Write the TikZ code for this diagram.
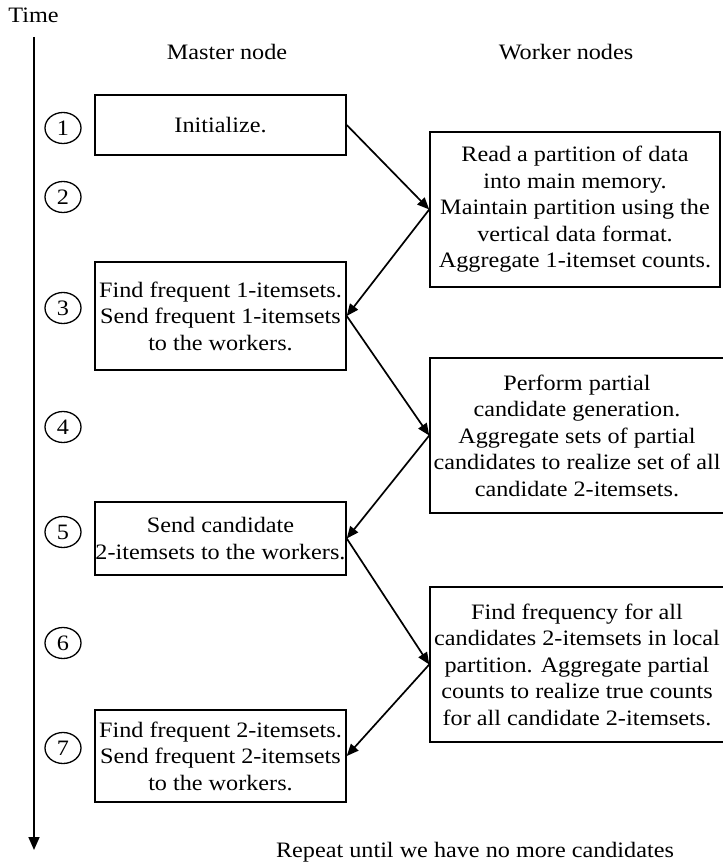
\documentclass[tikz,border=0pt]{standalone}
\usepackage{fontspec}
\setmainfont{Liberation Serif}[FakeStretch=1.1]
\usetikzlibrary{arrows.meta,shapes.geometric}

\begin{document}
\begin{tikzpicture}[x=1pt,y=-1pt,
  every node/.style={font=\fontsize{22}{26.5}\selectfont, inner sep=0pt},
  procbox/.style={draw, line width=1.5pt, align=center},
  stepnum/.style={draw, ellipse, minimum width=36pt, minimum height=31pt, line width=1.3pt},
  flow/.style={-{Triangle[length=12pt,width=10pt]}, line width=1.7pt},
  timeaxis/.style={-{Triangle[length=13pt,width=11pt]}, line width=1.7pt}
]
\useasboundingbox (0,0) rectangle (722,866);

% time axis
\node (time) at (33.5,15) {Time};
\coordinate (ttop) at (34,37);
\coordinate (tbot) at (34,850);
\draw[timeaxis] (ttop) -- (tbot);

% column headings
\node (mhead) at (227,52) {Master node};
\node (whead) at (566,52) {Worker nodes};

% step numbers
\node[stepnum] (s1) at (63,128) {1};
\node[stepnum] (s2) at (63,197) {2};
\node[stepnum] (s3) at (63,308) {3};
\node[stepnum] (s4) at (63,427) {4};
\node[stepnum] (s5) at (63,532) {5};
\node[stepnum] (s6) at (63,643) {6};
\node[stepnum] (s7) at (63,748) {7};

% master side
\node[procbox, minimum width=251pt, minimum height=60pt] (m1) at (220.5,125) {Initialize.};
\node[procbox, minimum width=251pt, minimum height=108pt] (m3) at (220.5,316)
  {Find frequent 1-itemsets.\\Send frequent 1-itemsets\\to the workers.};
\node[procbox, minimum width=251pt, minimum height=73pt] (m5) at (220.5,538.5)
  {Send candidate\\2-itemsets to the workers.};
\node[procbox, minimum width=251pt, minimum height=92pt] (m7) at (220.5,756)
  {Find frequent 2-itemsets.\\Send frequent 2-itemsets\\to the workers.};

% worker side
\node[procbox, minimum width=290pt, minimum height=155pt] (w1) at (575,209.5)
  {Read a partition of data\\into main memory.\\Maintain partition using the\\vertical data format.\\Aggregate 1-itemset counts.};
\node[procbox, minimum width=294pt, minimum height=155pt] (w2) at (577,435.5)
  {Perform partial\\candidate generation.\\Aggregate sets of partial\\candidates to realize set of all\\candidate 2-itemsets.};
\node[procbox, minimum width=294pt, minimum height=155pt] (w3) at (577,664.5)
  {Find frequency for all\\candidates 2-itemsets in local\\partition. Aggregate partial\\counts to realize true counts\\for all candidate 2-itemsets.};

% message flow
\draw[flow] (m1.east) -- (w1.west);
\draw[flow] (w1.west) -- (m3.east);
\draw[flow] (m3.east) -- (w2.west);
\draw[flow] (w2.west) -- (m5.east);
\draw[flow] (m5.east) -- (w3.west);
\draw[flow] (w3.west) -- (m7.east);

\node (repeat) at (475,852) {Repeat until we have no more candidates};
\end{tikzpicture}
\end{document}
